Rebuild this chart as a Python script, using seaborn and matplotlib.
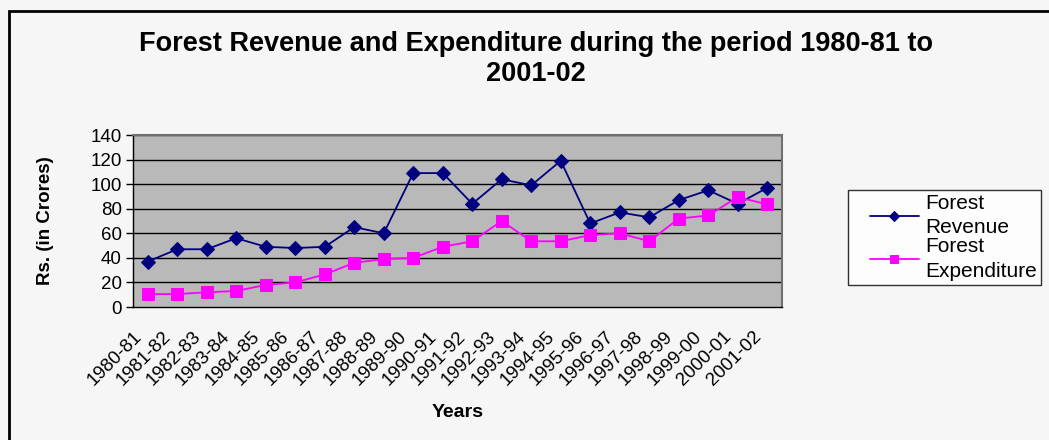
import numpy as np
import pandas as pd
import seaborn as sns
import matplotlib
matplotlib.use("Agg")
import matplotlib.pyplot as plt
from matplotlib.lines import Line2D
from matplotlib.legend_handler import HandlerLine2D
from matplotlib.patches import Rectangle

years = ["1980-81", "1981-82", "1982-83", "1983-84", "1984-85", "1985-86",
         "1986-87", "1987-88", "1988-89", "1989-90", "1990-91", "1991-92",
         "1992-93", "1993-94", "1994-95", "1995-96", "1996-97", "1997-98",
         "1998-99", "1999-00", "2000-01", "2001-02"]
revenue = [37, 47, 47, 56, 49, 48, 49, 65, 60, 109, 109, 84,
           104, 99, 119, 68, 77, 73, 87, 95, 84, 97]
expenditure = [10.5, 10.5, 12, 13, 18, 20, 26.5, 36, 39, 40, 49, 53.5,
               70, 53.5, 53.5, 58.5, 60, 53.5, 72, 74.5, 89.5, 83.5]
y_ticks = [0, 20, 40, 60, 80, 100, 120, 140]

sns.set_style("white")
plt.rcParams['font.family'] = ['Liberation Sans', 'DejaVu Sans']
plt.rcParams['text.color'] = 'black'
plt.rcParams['axes.labelcolor'] = 'black'
plt.rcParams['xtick.color'] = 'black'
plt.rcParams['ytick.color'] = 'black'

bg = "#f6f6f6"
fig = plt.figure(figsize=(10.49, 4.40), dpi=100, facecolor=bg)
ax = fig.add_axes([133 / 1049, 1 - 307 / 440, 649 / 1049, 172 / 440])
ax.set_facecolor("#b9b9b9")

df = pd.DataFrame({"Years": years, "Forest\nRevenue": revenue,
                   "Forest\nExpenditure": expenditure})
sns.lineplot(data=df, x="Years", y="Forest\nRevenue", ax=ax, color="#000080",
             marker="D", markersize=7, markeredgecolor="#000080", linewidth=1.3,
             label="Forest\nRevenue", sort=False)
sns.lineplot(data=df, x="Years", y="Forest\nExpenditure", ax=ax, color="#ff00ff",
             marker="s", markersize=8, markeredgecolor="#ff00ff", linewidth=1.3,
             label="Forest\nExpenditure", sort=False)

ax.set_yticks(y_ticks)
ax.set_yticklabels([str(t) for t in y_ticks], fontsize=13.5)
for t in y_ticks[1:]:
    ax.axhline(t, color="black", lw=1, zorder=0.5)

# labels sit on the category boundaries, like the Excel original
ax.set_xticks(np.arange(len(years)) - 0.5)
ax.set_xticklabels(years, rotation=45, ha="right", rotation_mode="anchor", fontsize=13.5)
ax.set_xticks([len(years) - 0.5], minor=True)
ax.tick_params(axis="x", which="both", length=5, width=1, color="black",
               direction="out", pad=10)
ax.tick_params(axis="y", length=5, width=1, color="black", direction="out", pad=3, left=True)
ax.set_xlim(-0.5, len(years) - 0.5)
ax.set_ylim(0, 140)

for s in ["left", "bottom"]:
    ax.spines[s].set_color("black")
    ax.spines[s].set_linewidth(1)
for s in ["top", "right"]:
    ax.spines[s].set_color("#707070")
    ax.spines[s].set_linewidth(1.5)

ax.set_xlabel("Years", fontsize=14, fontweight="bold", labelpad=11)
ax.set_ylabel("Rs. (in Crores)", fontsize=13.5, fontweight="bold", labelpad=26)

fig.text(536 / 1049, 1 - 44 / 440, "Forest Revenue and Expenditure during the period 1980-81 to",
         ha="center", va="center", fontsize=19.5, fontweight="bold")
fig.text(536 / 1049, 1 - 74 / 440, "2001-02",
         ha="center", va="center", fontsize=19.5, fontweight="bold")

leg = ax.legend(loc="upper left", bbox_to_anchor=(848 / 1049, 1 - 190 / 440),
                bbox_transform=fig.transFigure, fontsize=15, frameon=True,
                fancybox=False, edgecolor="black", facecolor="white",
                handlelength=3.2, borderpad=0.2, labelspacing=0.0,
                borderaxespad=0, handletextpad=0.3, markerscale=0.8,
                handler_map={Line2D: HandlerLine2D(xpad=0.85)})
leg.get_frame().set_linewidth(1)
for txt in leg.get_texts():
    txt.set_linespacing(1.35)

# outer chart border
fig.patches.append(Rectangle((9 / 1049, -0.1), 1.2, 1 - 11 / 440 + 0.1,
                             transform=fig.transFigure, fill=False,
                             edgecolor="black", linewidth=2))

fig.savefig("out.png", dpi=100, facecolor=bg)
